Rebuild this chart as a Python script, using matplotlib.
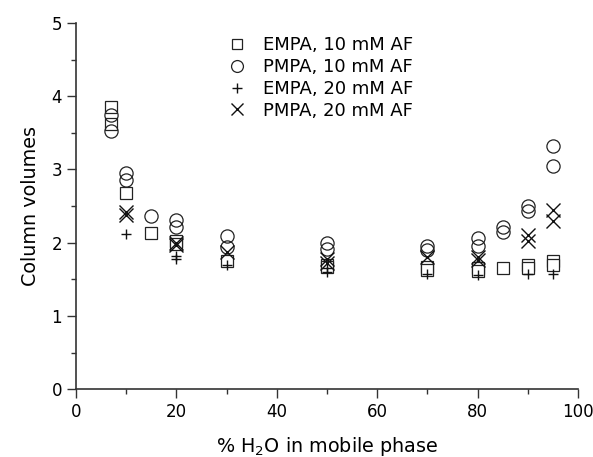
import matplotlib
matplotlib.use("Agg")
import matplotlib.pyplot as plt
from matplotlib.ticker import MultipleLocator

# the reference uses a wide sans face, DejaVu is the closest match
plt.rcParams["font.family"] = ["DejaVu Sans"]
plt.rcParams["mathtext.fontset"] = "dejavusans"

# % water in mobile phase / column volumes
empa10_x = [7, 7, 10, 15, 20, 20, 30, 50, 50, 70, 70, 80, 80, 85, 90, 90, 95, 95]
empa10_y = [3.85, 3.62, 2.68, 2.13, 2.02, 1.98, 1.75, 1.69, 1.67, 1.67, 1.63,
            1.65, 1.62, 1.66, 1.69, 1.66, 1.75, 1.70]

pmpa10_x = [7, 7, 10, 10, 15, 20, 20, 30, 30, 50, 50, 70, 70, 80, 80, 85, 85,
            90, 90, 95, 95]
pmpa10_y = [3.74, 3.53, 2.95, 2.85, 2.37, 2.31, 2.21, 2.09, 1.94, 1.99, 1.92,
            1.96, 1.90, 2.07, 1.96, 2.21, 2.15, 2.50, 2.43, 3.32, 3.05]

empa20_x = [10, 20, 20, 30, 50, 50, 70, 80, 90, 95]
empa20_y = [2.12, 1.82, 1.78, 1.69, 1.65, 1.60, 1.57, 1.56, 1.58, 1.58]

pmpa20_x = [10, 10, 20, 20, 30, 50, 50, 70, 80, 80, 90, 90, 95, 95]
pmpa20_y = [2.42, 2.38, 2.00, 1.97, 1.87, 1.78, 1.72, 1.80, 1.80, 1.77,
            2.10, 2.03, 2.45, 2.30]

fig = plt.figure(figsize=(5.93, 4.57), dpi=100)
ax = fig.add_axes([0.128, 0.148, 0.847, 0.802])

ax.plot(empa10_x, empa10_y, ls="none", marker="s", ms=8, mfc="white",
        mec="#222222", mew=0.9, label="EMPA, 10 mM AF")
ax.plot(pmpa10_x, pmpa10_y, ls="none", marker="o", ms=9.5, mfc="none",
        mec="#222222", mew=0.9, label="PMPA, 10 mM AF")
ax.plot(empa20_x, empa20_y, ls="none", marker="+", ms=7.5, mec="#111111",
        mew=1.0, label="EMPA, 20 mM AF")
ax.plot(pmpa20_x, pmpa20_y, ls="none", marker="x", ms=9.5, mec="#111111",
        mew=1.0, label="PMPA, 20 mM AF")

ax.set_xlim(0, 100)
ax.set_ylim(0, 5)
ax.xaxis.set_major_locator(MultipleLocator(20))
ax.xaxis.set_minor_locator(MultipleLocator(10))
ax.yaxis.set_major_locator(MultipleLocator(1))
ax.yaxis.set_minor_locator(MultipleLocator(0.5))
ax.tick_params(which="both", direction="out", labelsize=12, width=1.0,
               color="#333333")
ax.tick_params(which="major", length=6.5)
ax.tick_params(which="minor", length=3.6)

for side in ("top", "right"):
    ax.spines[side].set_visible(False)
for side in ("left", "bottom"):
    ax.spines[side].set_linewidth(1.2)
    ax.spines[side].set_color("#333333")

ax.set_xlabel("% H$_2$O in mobile phase", fontsize=13.8, labelpad=10)
ax.set_ylabel("Column volumes", fontsize=13.8, labelpad=8)

ax.legend(loc="upper left", bbox_to_anchor=(0.296, 0.963), frameon=False,
          fontsize=13, handletextpad=0.75, labelspacing=0.21,
          handlelength=1.4, borderaxespad=0, borderpad=0, markerscale=0.9)

fig.savefig("out.png", dpi=100)
